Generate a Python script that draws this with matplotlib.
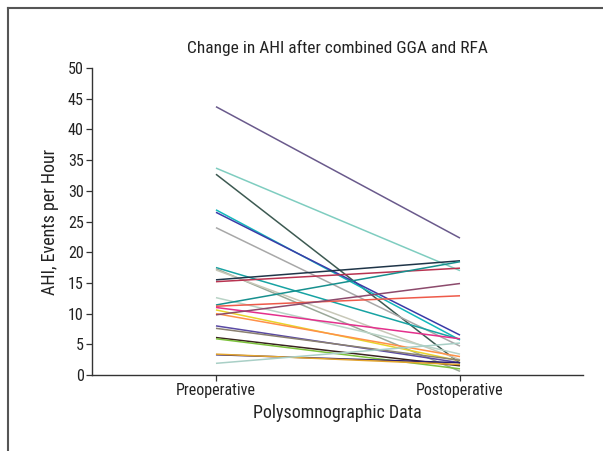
import matplotlib
matplotlib.use("Agg")
import matplotlib.pyplot as plt
from matplotlib.lines import Line2D
from matplotlib import font_manager
from matplotlib.font_manager import FontProperties

# pick a condensed sans font if one is installed
def find_condensed():
    prefs = ['liberationsansnarrow-regular', 'robotocondensed-regular',
             'dejavusanscondensed.ttf', 'opensans_condensed-regular',
             'notosans-condensed', 'notosanscondensed']
    files = [f.fname for f in font_manager.fontManager.ttflist]
    for p in prefs:
        for fn in files:
            if p in fn.lower().replace(' ', '').replace('_', '-') or p in fn.lower():
                return fn
    for fn in files:
        low = fn.lower()
        if ('narrow' in low or 'condensed' in low) and 'bold' not in low \
                and 'italic' not in low and 'oblique' not in low and 'light' not in low:
            return fn
    return None

fn = find_condensed()
if fn:
    font_manager.fontManager.addfont(fn)
    fp_name = FontProperties(fname=fn).get_name()
    plt.rcParams['font.family'] = [fp_name, 'DejaVu Sans']
    FONTNOTE = fn
else:
    plt.rcParams['font.family'] = ['Roboto', 'DejaVu Sans']
    FONTNOTE = 'none'

def fp(size):
    if fn:
        return FontProperties(fname=fn, size=size)
    return FontProperties(family='Roboto', size=size)

categories = ["Preoperative", "Postoperative"]
pre = [43.7, 33.7, 32.7, 26.9, 26.5, 24.0, 17.5, 17.3, 17.1, 15.5, 15.2,
       12.6, 11.4, 11.2, 11.0, 10.6, 10.0, 9.8, 8.0, 7.6, 6.1, 5.9, 3.3, 3.4, 1.9]
post = [22.3, 17.0, 1.9, 5.7, 6.5, 4.7, 5.8, 0.6, 2.5, 18.6, 17.4,
        3.4, 18.45, 12.9, 5.9, 2.3, 3.0, 14.9, 2.0, 2.4, 1.5, 1.0, 2.0, 1.7, 5.2]
colors = ["#6a5a8c", "#7fcdc0", "#3d5a52", "#12b8bc", "#3b3ba8", "#a8a8a8",
          "#17a3a3", "#9aa898", "#c8c8b8", "#1f3548", "#b83350",
          "#b9d3c6", "#17908e", "#ee5a4a", "#e4308c", "#e8d42a", "#ff9148",
          "#8c4a6c", "#5a4aa4", "#8a8070", "#3a2420", "#7cc23c", "#2e1e6e",
          "#e3a52e", "#a9cfc6"]

fig = plt.figure(figsize=(6.03, 4.51), dpi=100)
ax = fig.add_axes([92/603, 1-375/451, (583-92)/603, (375-68)/451])

for a, b, c in zip(pre, post, colors):
    ax.plot([0, 1], [a, b], color=c, lw=1.1, solid_capstyle='butt')

ax.set_xlim(-0.508, 1.504)
ax.set_ylim(0, 50)
ax.set_yticks(range(0, 51, 5))
ax.set_yticklabels([str(v) for v in range(0, 51, 5)], fontproperties=fp(11.5))
ax.set_xticks([0, 1])
ax.set_xticklabels(categories, fontproperties=fp(11.5))
for s in ['top', 'right']:
    ax.spines[s].set_visible(False)
for s in ['left', 'bottom']:
    ax.spines[s].set_color('#333333')
    ax.spines[s].set_linewidth(1.0)
ax.tick_params(axis='both', direction='out', length=4, width=0.9, color='#333333',
               labelcolor='#222222', pad=2)
ax.set_xlabel("Polysomnographic Data", fontproperties=fp(13), color='#222222', labelpad=4)
ax.set_ylabel("AHI, Events per Hour", fontproperties=fp(13), color='#222222', labelpad=6)
ax.set_title("Change in AHI after combined GGA and RFA", fontproperties=fp(12.5),
             color='#222222', pad=11)

# outer frame (top and left edges)
fig.add_artist(Line2D([8/603, 1.0], [1-8/451, 1-8/451], transform=fig.transFigure,
                      color='#555555', lw=1.5))
fig.add_artist(Line2D([8/603, 8/603], [1-8/451, 0], transform=fig.transFigure,
                      color='#555555', lw=1.5))

fig.savefig("out.png", dpi=100)
